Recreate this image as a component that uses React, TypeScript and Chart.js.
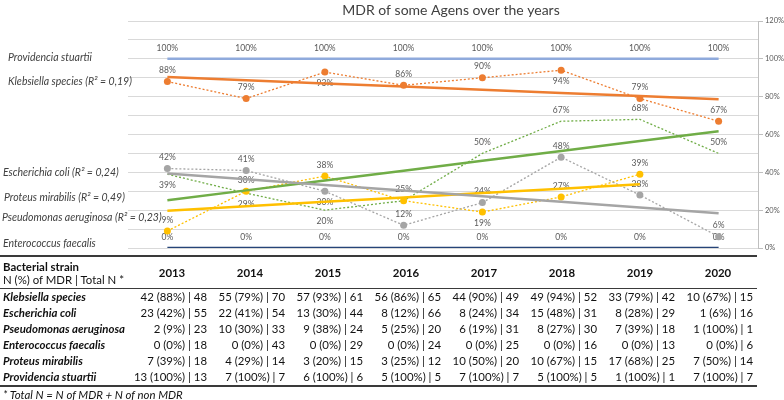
import React, { useEffect, useRef } from "react";
import { Chart, registerables } from "chart.js";

Chart.register(...registerables);

// ---------- data ----------
const years = ["2013", "2014", "2015", "2016", "2017", "2018", "2019", "2020"];

const providenciaPct = [100, 100, 100, 100, 100, 100, 100, 100];
const klebsiellaPct = [88, 79, 93, 86, 90, 94, 79, 67];
const ecoliPct = [42, 41, 30, 12, 24, 48, 28, 6];
const pseudomonasPct = [9, 30, 38, 25, 19, 27, 39, 100];
const enterococcusPct = [0, 0, 0, 0, 0, 0, 0, 0];
const proteusPct = [39, 29, 20, 25, 50, 67, 68, 50];
// Pseudomonas is plotted for 2013-2019 only
const pseudomonasPlotted = [9, 30, 38, 25, 19, 27, 39, null];

const klebsiellaN = [42, 55, 57, 56, 44, 49, 33, 10];
const klebsiellaTotal = [48, 70, 61, 65, 49, 52, 42, 15];
const ecoliN = [23, 22, 13, 8, 8, 15, 8, 1];
const ecoliTotal = [55, 54, 44, 66, 34, 31, 29, 16];
const pseudomonasN = [2, 10, 9, 5, 6, 8, 7, 1];
const pseudomonasTotal = [23, 33, 24, 20, 31, 30, 18, 1];
const enterococcusN = [0, 0, 0, 0, 0, 0, 0, 0];
const enterococcusTotal = [18, 43, 29, 24, 25, 16, 13, 6];
const proteusN = [7, 4, 3, 3, 10, 10, 17, 7];
const proteusTotal = [18, 14, 15, 12, 20, 15, 25, 14];
const providenciaN = [13, 7, 6, 5, 7, 5, 1, 7];
const providenciaTotal = [13, 7, 6, 5, 7, 5, 1, 7];

// label side for each point's percentage label ("none" = hidden behind another)
const providenciaSides = ["up", "up", "up", "up", "up", "up", "up", "up"];
const klebsiellaSides = ["up", "up", "down", "up", "up", "down", "up", "up"];
const ecoliSides = ["up", "up", "down", "up", "up", "up", "up", "up"];
const pseudomonasSides = ["up", "up", "up", "up", "down", "up", "up", "up"];
const enterococcusSides = ["up", "up", "up", "up", "up", "up", "up", "up"];
const proteusSides = ["down", "down", "down", "none", "up", "up", "up", "up"];

// names shown at the left of the plot, with the level (in %) they sit at
const seriesNames = [
  "Providencia stuartii",
  "Klebsiella species (R² = 0,19)",
  "Escherichia coli (R² = 0,24)",
  "Proteus mirabilis (R² = 0,49)",
  "Pseudomonas aeruginosa (R² = 0,23)",
  "Enterococcus faecalis",
];
const seriesNameLevels = [100.6, 87.9, 39.8, 26.6, 16, 2.3];
const seriesNameX = [8, 8, 3, 4, 2, 3];

const yTickStep = 10;
const yLabelStep = 20;
const yMax = 120;

const title = "MDR of some Agens over the years";

const tableRows = [
  { name: "Klebsiella species", n: klebsiellaN, pct: klebsiellaPct, total: klebsiellaTotal },
  { name: "Escherichia coli", n: ecoliN, pct: ecoliPct, total: ecoliTotal },
  { name: "Pseudomonas aeruginosa", n: pseudomonasN, pct: pseudomonasPct, total: pseudomonasTotal },
  { name: "Enterococcus faecalis", n: enterococcusN, pct: enterococcusPct, total: enterococcusTotal },
  { name: "Proteus mirabilis", n: proteusN, pct: proteusPct, total: proteusTotal },
  { name: "Providencia stuartii", n: providenciaN, pct: providenciaPct, total: providenciaTotal },
];

// linear least-squares trend line over the plotted (non-null) points
function trend(values: (number | null)[]): (number | null)[] {
  const pts: [number, number][] = [];
  values.forEach((v, i) => {
    if (v != null) pts.push([i, v]);
  });
  const n = pts.length;
  const mx = pts.reduce((s, p) => s + p[0], 0) / n;
  const my = pts.reduce((s, p) => s + p[1], 0) / n;
  let sxy = 0;
  let sxx = 0;
  pts.forEach(([x, y]) => {
    sxy += (x - mx) * (y - my);
    sxx += (x - mx) * (x - mx);
  });
  const b = sxy / sxx;
  const a = my - b * mx;
  return values.map((v, i) => (v == null ? null : a + b * i));
}

const FONT = "Lato, 'Open Sans', sans-serif";

const pctLabelPlugin = {
  id: "pctLabels",
  afterDatasetDraw(chart: any, args: any) {
    const ds = chart.data.datasets[args.index];
    if (!ds.labelSides) return;
    const ctx = chart.ctx;
    ctx.save();
    ctx.font = `8.5px ${FONT}`;
    ctx.fillStyle = "#595959";
    ctx.textAlign = "center";
    ctx.textBaseline = "middle";
    args.meta.data.forEach((el: any, i: number) => {
      const v = ds.data[i];
      const side = ds.labelSides[i];
      if (v == null || side === "none") return;
      const dy = side === "down" ? 11 : -11;
      ctx.fillText(v + "%", el.x, el.y + dy);
    });
    ctx.restore();
  },
};

const textPlugin = {
  id: "sideText",
  afterDraw(chart: any) {
    const ctx = chart.ctx;
    const y = chart.scales.y;
    ctx.save();
    ctx.textBaseline = "middle";
    ctx.fillStyle = "#404040";
    ctx.font = `italic 10.5px ${FONT}`;
    ctx.textAlign = "left";
    seriesNames.forEach((name, i) => {
      ctx.fillText(name, seriesNameX[i], y.getPixelForValue(seriesNameLevels[i]));
    });
    ctx.font = `14px ${FONT}`;
    ctx.fillStyle = "#404040";
    ctx.textAlign = "center";
    ctx.fillText(title, 451, 10);
    ctx.restore();
  },
};

export default function App() {
  const canvasRef = useRef<HTMLCanvasElement | null>(null);

  useEffect(() => {
    document.body.style.margin = "0";
    const canvas = canvasRef.current;
    if (!canvas) return;
    const dataLine = (label: string, data: any[], color: string, sides: string[], markers: boolean) => ({
      label,
      data,
      borderColor: color,
      backgroundColor: color,
      borderWidth: 1.3,
      borderDash: [2, 2],
      pointRadius: markers ? 3.5 : 0,
      pointBackgroundColor: color,
      pointBorderColor: color,
      pointBorderWidth: 0,
      fill: false,
      tension: 0,
      order: 1,
      labelSides: sides,
    });
    const trendLine = (label: string, data: any[], color: string) => ({
      label,
      data,
      borderColor: color,
      backgroundColor: color,
      borderWidth: 2.5,
      pointRadius: 0,
      fill: false,
      tension: 0,
      order: 0,
    });
    const chart = new Chart(canvas, {
      type: "line",
      data: {
        labels: years,
        datasets: [
          {
            label: "Providencia stuartii",
            data: providenciaPct,
            borderColor: "#8faadc",
            backgroundColor: "#8faadc",
            borderWidth: 2.5,
            pointRadius: 0,
            order: 2,
            labelSides: providenciaSides,
          } as any,
          {
            label: "Enterococcus faecalis",
            data: enterococcusPct,
            borderColor: "#264478",
            backgroundColor: "#264478",
            borderWidth: 2.5,
            pointRadius: 0,
            order: 2,
            labelSides: enterococcusSides,
          } as any,
          dataLine("Klebsiella species", klebsiellaPct, "#ed7d31", klebsiellaSides, true),
          dataLine("Escherichia coli", ecoliPct, "#a5a5a5", ecoliSides, true),
          dataLine("Pseudomonas aeruginosa", pseudomonasPlotted, "#ffc000", pseudomonasSides, true),
          dataLine("Proteus mirabilis", proteusPct, "#70ad47", proteusSides, false),
          trendLine("Klebsiella trend", trend(klebsiellaPct), "#ed7d31"),
          trendLine("Escherichia trend", trend(ecoliPct), "#a5a5a5"),
          trendLine("Pseudomonas trend", trend(pseudomonasPlotted), "#ffc000"),
          trendLine("Proteus trend", trend(proteusPct), "#70ad47"),
        ],
      },
      options: {
        responsive: false,
        animation: false,
        layout: { padding: { left: 128, top: 21, right: 0, bottom: 8 } },
        plugins: {
          legend: { display: false },
          title: { display: false },
          tooltip: { enabled: false },
        },
        scales: {
          x: { type: "category", display: false, offset: true },
          y: {
            position: "right",
            min: 0,
            max: yMax,
            afterFit(scale: any) {
              scale.width = 26;
            },
            border: { display: true, color: "#bfbfbf", width: 1 },
            grid: {
              color: "#d9d9d9",
              lineWidth: 1,
              drawTicks: true,
              tickLength: 5,
              tickColor: (c: any) =>
                c.tick && c.tick.value % yLabelStep === 0 ? "#bfbfbf" : "rgba(0,0,0,0)",
            },
            ticks: {
              stepSize: yTickStep,
              autoSkip: false,
              padding: 2,
              color: "#595959",
              font: { size: 7.5, family: FONT },
              callback: (v: any) => (Number(v) % yLabelStep === 0 ? v + "%" : ""),
            },
          },
        },
      },
      plugins: [pctLabelPlugin, textPlugin],
    });
    return () => chart.destroy();
  }, []);

  const cellBase: React.CSSProperties = {
    padding: "0 4px 0 0",
    textAlign: "right",
    whiteSpace: "nowrap",
    height: 16,
    lineHeight: "16px",
  };

  return (
    <div
      style={{
        position: "fixed",
        left: 0,
        top: 0,
        width: 784,
        height: 400,
        background: "#ffffff",
        overflow: "hidden",
        fontFamily: FONT,
        color: "#111",
      }}
    >
      <canvas ref={canvasRef} width={784} height={256} style={{ position: "absolute", left: 0, top: 0 }} />
      <table
        style={{
          position: "absolute",
          left: 0,
          top: 255,
          width: 757,
          borderCollapse: "collapse",
          tableLayout: "fixed",
          fontSize: 11.4,
        }}
      >
        <colgroup>
          <col style={{ width: 133 }} />
          {years.map((y) => (
            <col key={y} style={{ width: 78 }} />
          ))}
        </colgroup>
        <thead>
          <tr>
            <th
              style={{
                textAlign: "left",
                padding: "2px 0 2px 3px",
                borderTop: "2px solid #3a3a3a",
                borderBottom: "1px solid #3a3a3a",
                height: 27,
                lineHeight: "13px",
                whiteSpace: "nowrap",
              }}
            >
              <div style={{ fontWeight: 700 }}>Bacterial strain</div>
              <div style={{ fontWeight: 400 }}>N (%) of MDR | Total N *</div>
            </th>
            {years.map((y) => (
              <th
                key={y}
                style={{
                  textAlign: "center",
                  fontWeight: 700,
                  borderTop: "2px solid #3a3a3a",
                  borderBottom: "1px solid #3a3a3a",
                  padding: 0,
                }}
              >
                {y}
              </th>
            ))}
          </tr>
        </thead>
        <tbody>
          {tableRows.map((r, ri) => {
            const last = ri === tableRows.length - 1;
            const bb = last ? "2px solid #3a3a3a" : "none";
            return (
              <tr key={r.name}>
                <td
                  style={{
                    ...cellBase,
                    textAlign: "left",
                    padding: "0 0 0 3px",
                    fontWeight: 700,
                    fontStyle: "italic",
                    borderBottom: bb,
                  }}
                >
                  {r.name}
                </td>
                {years.map((y, i) => (
                  <td key={y} style={{ ...cellBase, borderBottom: bb }}>
                    {`${r.n[i]} (${r.pct[i]}%) | ${r.total[i]}`}
                  </td>
                ))}
              </tr>
            );
          })}
        </tbody>
      </table>
      <div
        style={{
          position: "absolute",
          left: 3,
          top: 387,
          fontSize: 11.4,
          fontStyle: "italic",
          lineHeight: "16px",
          whiteSpace: "nowrap",
        }}
      >
        * Total N = N of MDR + N of non MDR
      </div>
    </div>
  );
}
